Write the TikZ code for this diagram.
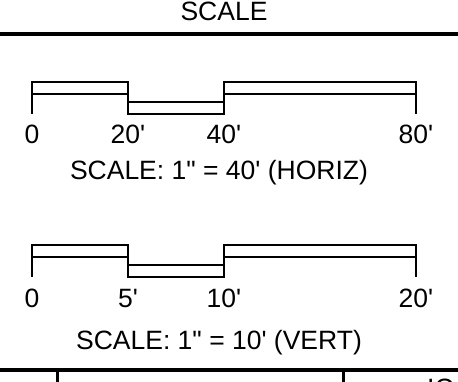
\documentclass[tikz,border=0pt]{standalone}
\usepackage{fontspec}
\setmainfont{Liberation Sans}[Ligatures=TeXOff]

\tikzstyle{txt} = [font=\fontsize{26.5}{30}\selectfont, inner sep=0pt, anchor=base]
\tikzstyle{bar} = [line width=2pt]
\tikzstyle{heavy} = [line width=4.5pt]

\begin{document}
\begin{tikzpicture}[x=1pt, y=-1pt]
\useasboundingbox (0,0) rectangle (458,382);

% Title
\node (title) [txt] at (224,20.5) {SCALE};
\draw [heavy] (0,34) -- (458,34);

% Horizontal scale
\draw [bar] (32,114) -- (32,82) -- (128,82) -- (128,94) -- (32,94);
\draw [bar] (128,94) -- (128,114) -- (224,114) -- (224,102) -- (128,102);
\draw [bar] (224,114) -- (224,82) -- (416,82) -- (416,114);
\draw [bar] (224,94) -- (416,94);
\node (h0) [txt] at (32,144) {0};
\node (h20) [txt] at (128,144) {20'};
\node (h40) [txt] at (224,144) {40'};
\node (h80) [txt] at (416,144) {80'};
\node (hscale) [txt] at (219,180) {SCALE: 1" = 40' (HORIZ)};

% Vertical scale
\draw [bar] (32,277) -- (32,245) -- (128,245) -- (128,257) -- (32,257);
\draw [bar] (128,257) -- (128,277) -- (224,277) -- (224,265) -- (128,265);
\draw [bar] (224,277) -- (224,245) -- (416,245) -- (416,277);
\draw [bar] (224,257) -- (416,257);
\node (v0) [txt] at (32,307) {0};
\node (v5) [txt] at (128,307) {5'};
\node (v10) [txt] at (224,307) {10'};
\node (v20) [txt] at (416,307) {20'};
\node (vscale) [txt] at (219,349) {SCALE: 1" = 10' (VERT)};

% Bottom table edge
\draw [heavy] (0,370) -- (458,370);
\draw [line width=3pt] (57,370) -- (57,385);
\draw [line width=3pt] (343,370) -- (343,385);
\node (cut) [txt, anchor=base west] at (427,397) {IC};

\end{tikzpicture}
\end{document}
